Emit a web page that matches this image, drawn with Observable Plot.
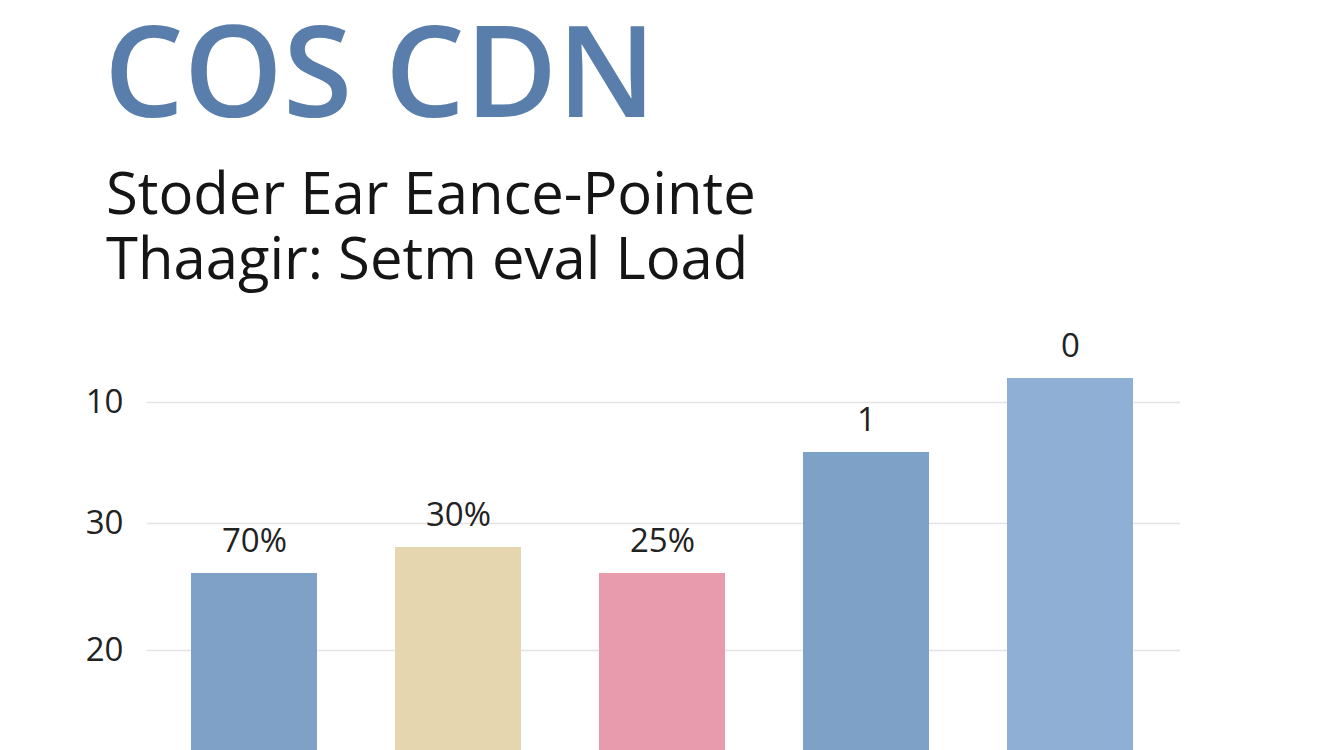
<!DOCTYPE html>
<html>
<head>
<meta charset="utf-8">
<script src="https://cdn.jsdelivr.net/npm/d3@7"></script>
<script src="https://cdn.jsdelivr.net/npm/@observablehq/plot@0.6"></script>
<style>
  html, body { margin: 0; padding: 0; background: #ffffff; width: 1344px; height: 750px; overflow: hidden; }
  #title { position: absolute; left: 104px; top: 2px; font-family: "Open Sans", sans-serif; font-weight: 600; font-size: 126px; line-height: 132px; color: #5a7eab; white-space: nowrap; }
  .sub { position: absolute; left: 106px; font-family: "Open Sans", sans-serif; font-weight: 400; font-size: 58px; line-height: 65px; height: 65px; color: #151515; white-space: nowrap; }
  #sub1 { top: 159px; }
  #sub2 { top: 224px; }
  #chart { position: absolute; left: 0; top: 300px; }
</style>
</head>
<body>
<div id="title">COS CDN</div>
<div id="sub1" class="sub">Stoder Ear Eance-Pointe</div>
<div id="sub2" class="sub">Thaagir: Setm eval Load</div>
<div id="chart"></div>
<script>
const categories = ["A", "B", "C", "D", "E"];
const values = [44.25, 50.75, 44.25, 74.5, 93];
const barLabels = ["70%", "30%", "25%", "1", "0"];
const barColors = ["#7fa1c8", "#e5d6b0", "#e89bad", "#7ea1c8", "#8fafd4"];
const tickValues = [25, 56.75, 87];
const tickLabels = ["20", "30", "10"];

const data = categories.map((c, i) => ({category: c, value: values[i], label: barLabels[i], color: barColors[i]}));
const tickMap = new Map(tickValues.map((v, i) => [v, tickLabels[i]]));

const chart = Plot.plot({
  width: 1344,
  height: 450,
  marginTop: 40,
  marginBottom: 0,
  marginLeft: 151,
  marginRight: 171,
  style: {fontFamily: "Open Sans, sans-serif", color: "#222", background: "transparent"},
  x: {domain: categories, paddingInner: 0.384, paddingOuter: 0.192, axis: null},
  y: {domain: [0, 102.5], axis: null},
  color: {type: "identity"},
  marks: [
    Plot.ruleY(tickValues, {stroke: "#e4e4e4", strokeWidth: 1.5, insetLeft: -4, insetRight: -7}),
    Plot.axisY({ticks: tickValues, tickFormat: d => tickMap.get(d), tickSize: 0, tickPadding: 28, fontSize: 33, fill: "#222", label: null}),
    Plot.barY(data, {x: "category", y: "value", fill: "color"}),
    Plot.text(data, {x: "category", y: "value", text: "label", dy: -32, fontSize: 33, fill: "#222"})
  ]
});
document.getElementById("chart").appendChild(chart);
</script>
</body>
</html>
